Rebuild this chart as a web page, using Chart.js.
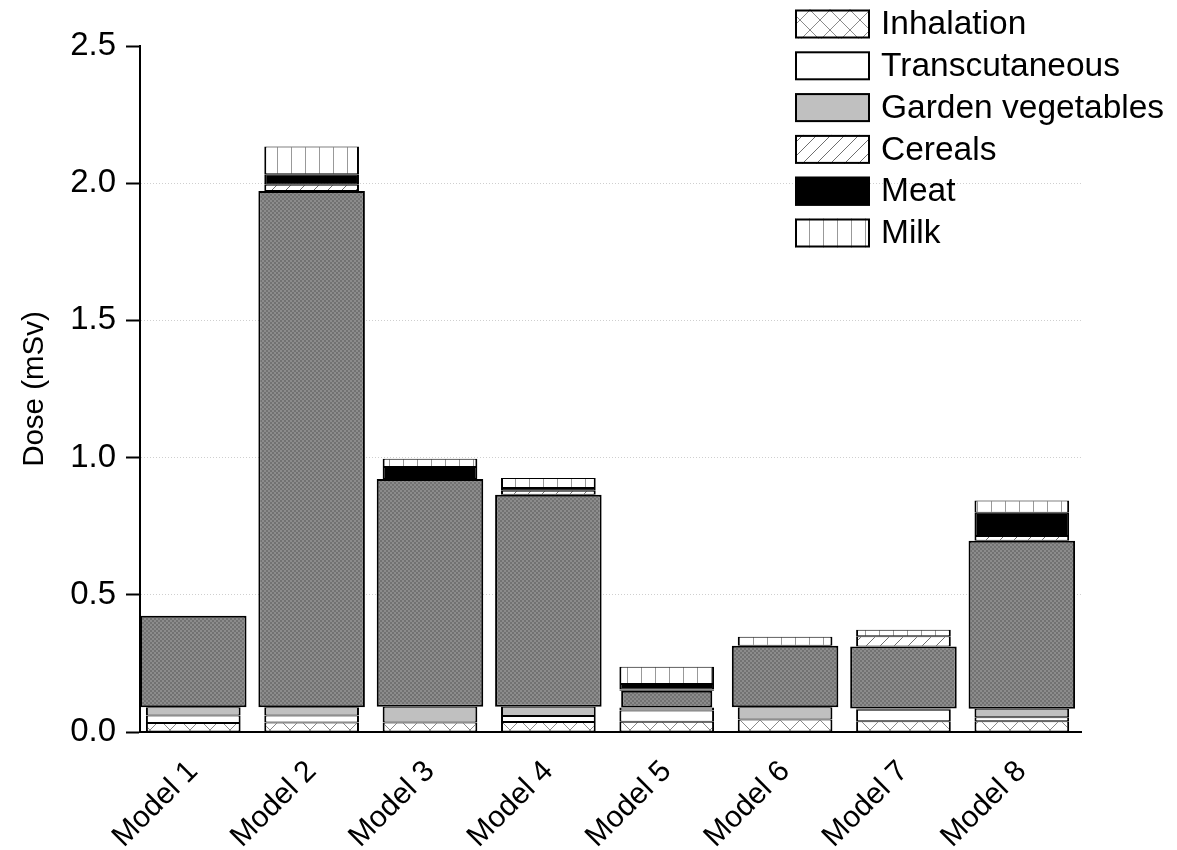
<!DOCTYPE html>
<html>
<head>
<meta charset="utf-8">
<script src="https://cdn.jsdelivr.net/npm/chart.js@4.4.1/dist/chart.umd.min.js"></script>
<style>
  html, body { margin: 0; padding: 0; background: #ffffff; }
  #wrap { width: 1177px; height: 850px; position: relative; }
</style>
</head>
<body>
<div id="wrap"><canvas id="c" width="1177" height="850"></canvas></div>
<script>
// ---------- data ----------
const categories = ['Model 1', 'Model 2', 'Model 3', 'Model 4', 'Model 5', 'Model 6', 'Model 7', 'Model 8'];
const inhalation     = [0.033, 0.035, 0.035, 0.036, 0.037, 0.046, 0.039, 0.039];
const transcutaneous = [0.027, 0.025, 0.000, 0.022, 0.041, 0.000, 0.042, 0.015];
const gardenVeg      = [0.030, 0.030, 0.057, 0.034, 0.011, 0.044, 0.005, 0.031];
const darkBlock      = [0.334, 1.882, 0.830, 0.773, null, 0.224, 0.226, 0.612];
const darkBlockM5    = [null, null, null, null, 0.061, null, null, null];
const cereals        = [0.000, 0.022, 0.000, 0.014, 0.005, 0.000, 0.037, 0.017];
const meat           = [0.000, 0.039, 0.044, 0.010, 0.020, 0.000, 0.000, 0.085];
const milk           = [0.000, 0.101, 0.030, 0.037, 0.063, 0.033, 0.024, 0.045];
const yTicks         = [0.0, 0.5, 1.0, 1.5, 2.0, 2.5];

const FONT = '"Liberation Sans", Arial, Helvetica, sans-serif';

// ---------- patterns ----------
function makePattern(w, h, draw) {
  const c = document.createElement('canvas');
  c.width = w; c.height = h;
  const g = c.getContext('2d');
  draw(g, w, h);
  return document.getElementById('c').getContext('2d').createPattern(c, 'repeat');
}
const patInhal = makePattern(20, 20, (g, w, h) => {
  g.fillStyle = '#fff'; g.fillRect(0, 0, w, h);
  g.strokeStyle = '#8a8a8a'; g.lineWidth = 1;
  g.beginPath(); g.moveTo(0, 0); g.lineTo(w, h); g.moveTo(w, 0); g.lineTo(0, h); g.stroke();
});
const patCereal = makePattern(14, 14, (g, w, h) => {
  g.fillStyle = '#fff'; g.fillRect(0, 0, w, h);
  g.strokeStyle = '#6e6e6e'; g.lineWidth = 1;
  g.beginPath(); g.moveTo(-1, h + 1); g.lineTo(w + 1, -1); g.stroke();
});
const patMilk = makePattern(14, 4, (g, w, h) => {
  g.fillStyle = '#fff'; g.fillRect(0, 0, w, h);
  g.fillStyle = '#999'; g.fillRect(11, 0, 1, h);
});
const patDark = makePattern(4, 4, (g, w, h) => {
  g.fillStyle = '#8c8c8c'; g.fillRect(0, 0, w, h);
  g.fillStyle = '#727272'; g.fillRect(0, 0, 2, 2); g.fillRect(2, 2, 2, 2);
});

const thinBorder = { top: 1, bottom: 1, left: 2, right: 2 };
const toXY = arr => arr.map((v, i) => ({ x: i + 1, y: v }));

function seg(label, arr, fill, bp, legend, bw) {
  return {
    label: label,
    data: toXY(arr),
    backgroundColor: fill,
    borderColor: '#000',
    borderWidth: bw || thinBorder,
    borderSkipped: false,
    barPercentage: bp,
    categoryPercentage: 1,
    stack: 's',
    showInLegend: legend
  };
}

const datasets = [
  seg('Inhalation', inhalation, patInhal, 0.80, true),
  seg('Transcutaneous', transcutaneous, '#ffffff', 0.80, true),
  seg('Garden vegetables', gardenVeg, '#c0c0c0', 0.80, true),
  seg('', darkBlock, patDark, 0.90, false, 2),
  seg('', darkBlockM5, patDark, 0.77, false, 2),
  seg('Cereals', cereals, patCereal, 0.80, true),
  seg('Meat', meat, '#000000', 0.80, true),
  seg('Milk', milk, patMilk, 0.80, true)
];

// ---------- custom legend (top right, over the plot) ----------
const legendPlugin = {
  id: 'customLegend',
  afterDraw(chart) {
    const ctx = chart.ctx;
    const items = chart.data.datasets.filter(d => d.showInLegend);
    ctx.save();
    items.forEach((d, i) => {
      const x = 795, y = 9.5 + i * 41.8, w = 75, h = 29;
      ctx.fillStyle = d.backgroundColor;
      ctx.fillRect(x, y, w, h);
      ctx.lineWidth = 2;
      ctx.strokeStyle = '#000';
      ctx.strokeRect(x + 1, y + 1, w - 2, h - 2);
      ctx.fillStyle = '#000';
      ctx.font = '33.5px ' + FONT;
      ctx.textBaseline = 'middle';
      ctx.textAlign = 'left';
      ctx.fillText(d.label, 881, y + h / 2 + 1);
    });
    ctx.restore();
  }
};

new Chart(document.getElementById('c'), {
  type: 'bar',
  data: { datasets: datasets },
  options: {
    responsive: false,
    animation: false,
    devicePixelRatio: 1,
    layout: { padding: { top: 46, right: 96, left: 0, bottom: 0 } },
    plugins: { legend: { display: false }, tooltip: { enabled: false } },
    scales: {
      x: {
        type: 'linear',
        stacked: true,
        min: 0.55,
        max: 8.5,
        offset: false,
        grid: { display: false, drawTicks: false },
        border: { display: true, color: '#000', width: 2 },
        ticks: {
          stepSize: 1,
          includeBounds: false,
          autoSkip: false,
          maxRotation: 45,
          minRotation: 45,
          padding: 22,
          color: '#000',
          font: { family: FONT, size: 30 },
          callback: v => categories[Math.round(v) - 1] || ''
        },
        afterFit: s => { s.height = 118; }
      },
      y: {
        stacked: true,
        min: yTicks[0],
        max: yTicks[yTicks.length - 1],
        afterBuildTicks: s => { s.ticks = yTicks.map(v => ({ value: v })); },
        grid: {
          color: c => (c.tick && (c.tick.value === 0 || c.tick.value === 2.5)) ? 'rgba(0,0,0,0)' : '#cfcfcf',
          lineWidth: 1,
          tickColor: '#000',
          tickWidth: 2,
          tickLength: 14,
          drawTicks: true
        },
        border: { display: true, color: '#000', width: 2, dash: [1, 2] },
        ticks: {
          padding: 10,
          color: '#000',
          font: { family: FONT, size: 33 },
          callback: v => Number(v).toFixed(1)
        },
        title: {
          display: true,
          text: 'Dose (mSv)',
          color: '#000',
          font: { family: FONT, size: 29.5 },
          padding: { top: 17, bottom: 0 }
        },
        afterFit: s => { s.width = 140; }
      }
    }
  },
  plugins: [legendPlugin]
});
</script>
</body>
</html>
